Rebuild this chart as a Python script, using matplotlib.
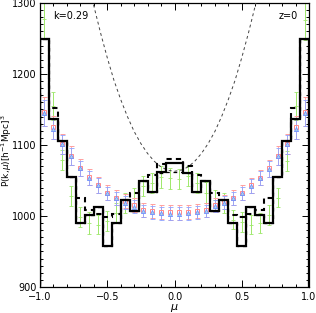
import numpy as np
import matplotlib
matplotlib.use("Agg")
import matplotlib.pyplot as plt

# mu bins (30 bins from -1 to 1)
n_bins = 30
mu_edges = np.linspace(-1.0, 1.0, n_bins + 1)
mu_mid = 0.5 * (mu_edges[:-1] + mu_edges[1:])

# solid histogram
p_solid = [1250, 1136, 1105, 1055, 990, 1002, 1013, 958, 990, 1022, 1007, 1049, 1034, 1062, 1075,
           1075, 1061, 1034, 1049, 1007, 1022, 990, 958, 1013, 1002, 990, 1055, 1105, 1136, 1250]
# thick dashed histogram
p_dash = [1250, 1152, 1105, 1055, 1025, 1008, 1003, 999, 1003, 1022, 1033, 1049, 1058, 1073, 1080,
          1080, 1070, 1058, 1049, 1033, 1022, 1001, 999, 1003, 1008, 1025, 1055, 1105, 1152, 1250]
# thin dashed histogram
p_dash2 = [1250, 1136, 1105, 1055, 990, 1002, 1013, 958, 990, 1022, 1007, 1049, 1034, 1060, 1062,
           1062, 1060, 1034, 1049, 1007, 1022, 990, 958, 1013, 1002, 990, 1055, 1105, 1136, 1250]

# red squares
p_red = [1147, 1125, 1102, 1085, 1068, 1055, 1044, 1033, 1026, 1021, 1015, 1009, 1007, 1006, 1005,
         1005, 1006, 1007, 1009, 1016, 1020, 1026, 1033, 1043, 1054, 1067, 1085, 1102, 1125, 1147]
e_red = [20, 16, 14, 13, 12, 11, 11, 10, 10, 10, 10, 10, 10, 10, 10,
         10, 10, 10, 10, 10, 10, 10, 10, 11, 11, 12, 13, 14, 16, 20]
# blue triangles
p_blue = [1145, 1123, 1101, 1084, 1067, 1054, 1043, 1032, 1025, 1019, 1013, 1007, 1005, 1004, 1003,
          1003, 1004, 1005, 1007, 1014, 1019, 1025, 1032, 1042, 1053, 1066, 1084, 1101, 1123, 1145]
e_blue = [18, 15, 13, 12, 11, 10, 10, 9, 9, 9, 9, 9, 9, 9, 9,
          9, 9, 9, 9, 9, 9, 9, 9, 10, 10, 11, 12, 13, 15, 18]
# green
p_green = [1278, 1155, 1079, 1028, 999, 990, 988, 993, 1004, 1018, 1026, 1042, 1047, 1055, 1053,
           1052, 1056, 1046, 1033, 1022, 1018, 995, 991, 988, 990, 1002, 1026, 1078, 1155, 1276]
e_green = [28, 20, 14, 14, 14, 15, 14, 14, 14, 14, 14, 14, 14, 15, 15,
           14, 14, 14, 15, 14, 14, 14, 14, 14, 14, 14, 14, 14, 20, 28]

# thin dashed curve
mu_curve = [-0.65, -0.6, -0.55, -0.5, -0.45, -0.4, -0.35, -0.3, -0.25, -0.2, -0.15, -0.1, -0.05, 0.0,
            0.05, 0.1, 0.15, 0.2, 0.25, 0.3, 0.35, 0.4, 0.45, 0.5, 0.55, 0.6, 0.65]
p_curve = [1340, 1296, 1258, 1223, 1191, 1164, 1140, 1119, 1102, 1088, 1077, 1069, 1064.5, 1063,
           1064.5, 1069, 1077, 1088, 1102, 1119, 1140, 1164, 1191, 1223, 1258, 1296, 1340]

fs = 7
fig = plt.figure(figsize=(3.16, 3.13), dpi=100)
ax = fig.add_axes([0.1266, 0.0831, 0.8513, 0.9073])

ax.errorbar(mu_mid, p_green, yerr=e_green, fmt='+', color='#9de86a', ms=3, mew=0.6,
            elinewidth=0.7, capsize=1.5, capthick=0.6, zorder=2)
ax.errorbar(mu_mid, p_red, yerr=e_red, fmt='s', mfc='none', mec='#ff8a8a', ecolor='#ff9f9f',
            ms=3.5, mew=0.7, elinewidth=0.6, capsize=1.8, capthick=0.6, zorder=3)
ax.errorbar(mu_mid, p_blue, yerr=e_blue, fmt='^', mfc='#a9d3e8', mec='#6f8fff', ecolor='#8fa3ff',
            ms=3, mew=0.6, elinewidth=0.6, capsize=1.8, capthick=0.6, zorder=3)

ax.plot(mu_curve, p_curve, color='#444444', lw=0.7, dashes=(3, 3), zorder=4)
ax.stairs(p_dash2, mu_edges, color='black', lw=0.9, linestyle=(0, (3, 3)), zorder=4)
ax.stairs(p_dash, mu_edges, color='black', lw=1.5, linestyle=(0, (2.5, 2)), zorder=5)
ax.stairs(p_solid, mu_edges, color='black', lw=1.6, zorder=6)

ax.set_xlim(-1, 1)
ax.set_ylim(900, 1300)
ax.set_xticks([-1.0, -0.5, 0.0, 0.5, 1.0])
ax.set_xticklabels(['\u22121.0', '\u22120.5', '0.0', '0.5', '1.0'])
ax.set_xticks(np.arange(-1, 1.01, 0.1), minor=True)
ax.set_yticks([900, 1000, 1100, 1200, 1300])
ax.set_yticks(np.arange(900, 1301, 10), minor=True)
ax.tick_params(which='both', direction='in', top=True, right=True, labelsize=fs, width=0.7)
ax.tick_params(which='major', length=5)
ax.tick_params(which='minor', length=2.5)
ax.tick_params(axis='x', which='major', pad=3.5)
ax.tick_params(axis='y', which='major', pad=2.5)
for s in ax.spines.values():
    s.set_linewidth(0.9)

fig.text(0.552, 0.016, r'$\mu$', fontsize=fs + 1, ha='center', va='center')
fig.text(0.021, 0.52, r'P(k,$\mu$)[h$^{-1}$Mpc]$^3$', fontsize=fs - 0.5, rotation=90,
         ha='center', va='center')
ax.text(0.05, 0.955, 'k=0.29', transform=ax.transAxes, fontsize=fs, va='center')
ax.text(0.96, 0.955, 'z=0', transform=ax.transAxes, fontsize=fs, va='center', ha='right')

fig.savefig('out.png', dpi=100)
